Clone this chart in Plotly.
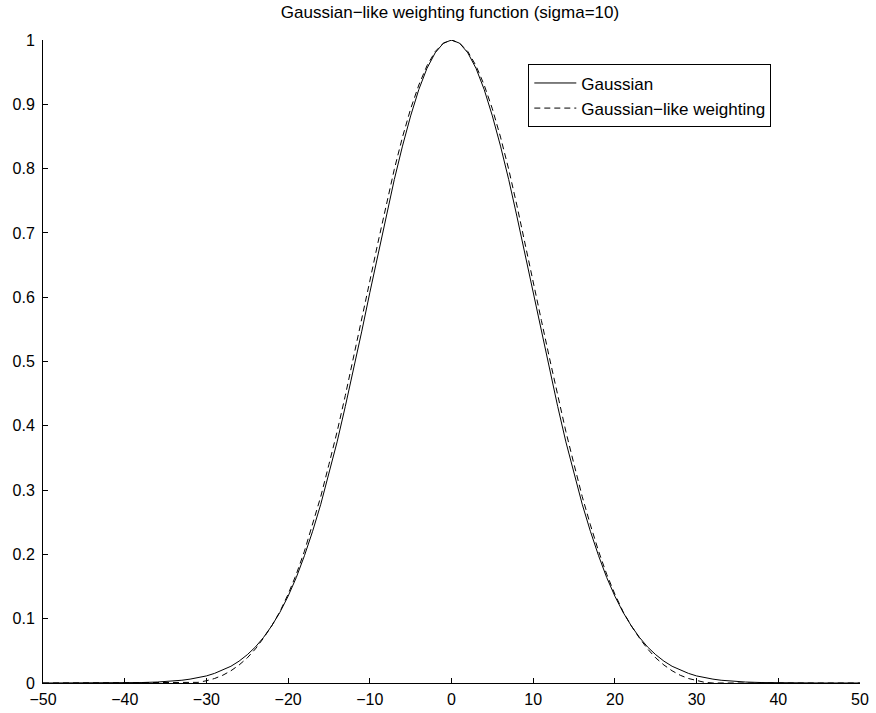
import plotly.graph_objects as go

# Sample positions along the x axis
x_vals = [-50, -45, -40, -38] + list(range(-36, 37)) + [38, 40, 45, 50]

# Curve heights at each x position in x_vals
gauss_vals = [
    0.0, 0.00004, 0.0003, 0.0007,
    0.0015, 0.0022, 0.0031, 0.0043, 0.0060, 0.0082, 0.011, 0.015, 0.020, 0.026,
    0.034, 0.044, 0.056, 0.071, 0.089, 0.110, 0.135, 0.164, 0.198, 0.236,
    0.278, 0.325, 0.375, 0.430, 0.487, 0.546, 0.607, 0.667, 0.726, 0.783,
    0.835, 0.882, 0.923, 0.956, 0.980, 0.995,
    1.000,
    0.995, 0.980, 0.956, 0.923, 0.882, 0.835, 0.783, 0.726, 0.667, 0.607,
    0.546, 0.487, 0.430, 0.375, 0.325, 0.278, 0.236, 0.198, 0.164, 0.135,
    0.110, 0.089, 0.071, 0.056, 0.044, 0.034, 0.026, 0.020, 0.015, 0.011,
    0.0082, 0.0060, 0.0043, 0.0031, 0.0022, 0.0015,
    0.0007, 0.0003, 0.00004, 0.0,
]

weight_vals = [
    0.0, 0.0, 0.0, 0.0,
    0.0, 0.0, 0.0, 0.0, 0.0, 0.001, 0.0035, 0.007, 0.012, 0.019,
    0.028, 0.039, 0.053, 0.070, 0.089, 0.111, 0.138, 0.169, 0.205, 0.246,
    0.290, 0.340, 0.391, 0.447, 0.505, 0.564, 0.625, 0.685, 0.743, 0.799,
    0.849, 0.893, 0.930, 0.960, 0.982, 0.995,
    1.000,
    0.995, 0.982, 0.960, 0.930, 0.893, 0.849, 0.799, 0.743, 0.685, 0.625,
    0.564, 0.505, 0.447, 0.391, 0.340, 0.290, 0.246, 0.205, 0.169, 0.138,
    0.111, 0.089, 0.070, 0.053, 0.039, 0.028, 0.019, 0.012, 0.007, 0.0035,
    0.001, 0.0, 0.0, 0.0, 0.0, 0.0,
    0.0, 0.0, 0.0, 0.0,
]

x_ticks = [-50, -40, -30, -20, -10, 0, 10, 20, 30, 40, 50]
y_ticks = [0, 0.1, 0.2, 0.3, 0.4, 0.5, 0.6, 0.7, 0.8, 0.9, 1]
y_tick_text = ["0", "0.1", "0.2", "0.3", "0.4", "0.5", "0.6", "0.7", "0.8", "0.9", "1"]

FONT = "Liberation Sans, Arial, Helvetica, sans-serif"

fig = go.Figure()
fig.add_trace(go.Scatter(
    x=x_vals, y=gauss_vals, mode="lines", name="Gaussian",
    line=dict(color="black", width=1),
))
fig.add_trace(go.Scatter(
    x=x_vals, y=weight_vals, mode="lines", name="Gaussian\u2212like weighting",
    line=dict(color="black", width=1, dash="6px,4px"),
))

axis_common = dict(
    showgrid=False, zeroline=False, showline=True, linecolor="black", linewidth=1,
    ticks="inside", ticklen=5, tickcolor="black", tickwidth=1,
    tickfont=dict(family=FONT, size=16, color="black"),
    mirror=False, automargin=False,
)

fig.update_xaxes(range=[-50, 50], tickvals=x_ticks, ticklabelstandoff=2, **axis_common)
fig.update_yaxes(range=[0, 1], tickvals=y_ticks, ticktext=y_tick_text,
                 ticklabelstandoff=4, **axis_common)

fig.update_layout(
    width=876, height=713,
    margin=dict(l=43, r=16, t=40, b=30),
    plot_bgcolor="white", paper_bgcolor="white",
    title=dict(
        text="Gaussian\u2212like weighting function (sigma=10)",
        x=(450 / 876), xanchor="center", y=1 - 12 / 713, yanchor="middle",
        font=dict(family=FONT, size=17, color="black"),
    ),
    legend=dict(
        x=0.594, y=0.962, xanchor="left", yanchor="top",
        bordercolor="black", borderwidth=1, bgcolor="white",
        font=dict(family=FONT, size=17, color="black"),
        tracegroupgap=0, itemwidth=42,
    ),
    showlegend=True,
)

fig.write_html("out.html")
